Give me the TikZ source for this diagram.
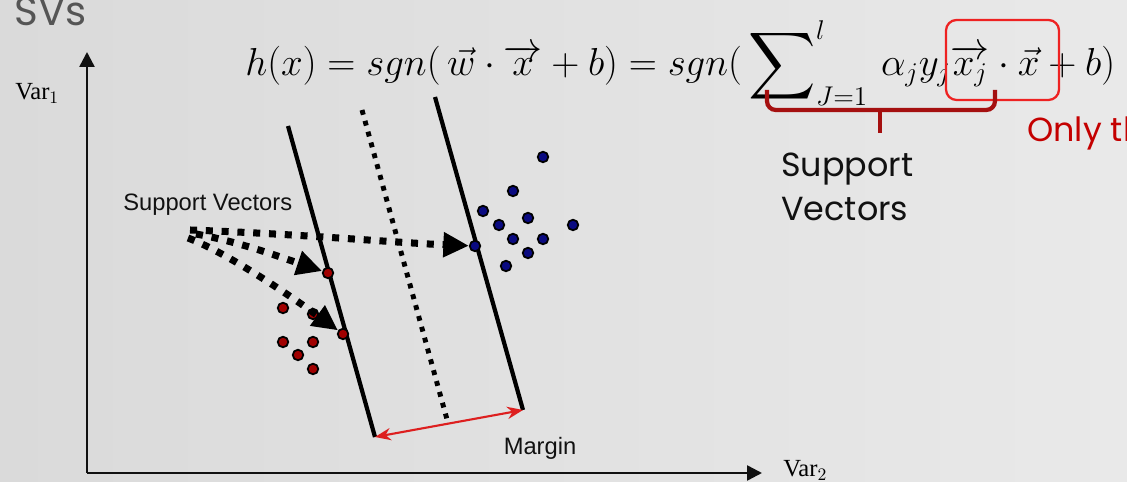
\documentclass[tikz,border=0pt]{standalone}
\usepackage{amsmath,amssymb}
\usepackage{fontspec}
\setmainfont{Liberation Serif}
\newfontfamily\arialfont{Liberation Sans}
\newfontfamily\gothfont{Poppins}
\usetikzlibrary{arrows.meta,positioning,calc}
\definecolor{bgl}{HTML}{DADADA}
\definecolor{bgr}{HTML}{E9E9E9}
\definecolor{ink}{HTML}{111111}
\definecolor{title}{HTML}{555555}
\definecolor{redpt}{HTML}{A00000}
\definecolor{bluept}{HTML}{0A0A80}
\definecolor{margin}{HTML}{DD1F1F}
\definecolor{boxred}{HTML}{EE2222}
\definecolor{brace}{HTML}{A51010}
\definecolor{note}{HTML}{C40000}
\newcommand{\bigsum}{\mathop{\vcenter{\hbox{\scalebox{1.2}{$\displaystyle\sum$}}}}}
\tikzset{
  axis/.style={-{Triangle[length=8.5pt,width=8.5pt]}, line width=1.4pt, draw=ink},
  hyper/.style={line width=2.4pt, draw=black},
  midplane/.style={line width=2.8pt, draw=black, dash pattern=on 2.8pt off 3.6pt},
  dotarr/.style={-{Triangle[length=14.5pt,width=13.5pt]}, line width=4pt, draw=black, dash pattern=on 4pt off 5pt},
  pt/.style={circle, inner sep=0pt, minimum size=6pt, draw=black, line width=1pt, fill=#1},
  reddot/.style={pt=redpt},
  bluedot/.style={pt=bluept},
  lab/.style={font=\arialfont\fontsize{13.5}{15}\selectfont, text=ink, inner sep=0pt},
}

\begin{document}
\begin{tikzpicture}[x=0.02cm, y=-0.02cm]
    \shade[left color=bgl, right color=bgr] (0,0) rectangle (1127,482);
    \useasboundingbox (0,0) rectangle (1127,482);
    % title
    \node[font=\gothfont\fontsize{23}{23}\selectfont, text=title, anchor=base west, inner sep=0pt] (ttl) at (14,26) {SVs};
    % axes
    \coordinate (origin) at (87,473);
    \coordinate (ytop) at (87,52);
    \coordinate (xend) at (762,473);
    \draw[axis] (origin) -- (ytop);
    \draw[axis] (origin) -- (xend);
    \node[font=\fontsize{14}{14}\selectfont, anchor=base west, inner sep=0pt] (v1) at (15,100) {Var$_1$};
    \node[font=\fontsize{14}{14}\selectfont, anchor=base west, inner sep=0pt] (v2) at (783,477) {Var$_2$};
    % hyperplanes
    \coordinate (ltop) at (288,126);
    \coordinate (lbot) at (375,437);
    \coordinate (mtop) at (362,110);
    \coordinate (mbot) at (448,423);
    \coordinate (rtop) at (435,97);
    \coordinate (rbot) at (523,410);
    \draw[hyper] (ltop) -- (lbot);
    \draw[midplane] (mtop) -- (mbot);
    \draw[hyper] (rtop) -- (rbot);
    % margin
    \draw[{Stealth[length=9pt,width=7pt]}-{Stealth[length=9pt,width=7pt]}, line width=1.2pt, draw=margin] (lbot) -- (rbot);
    \node[lab] (mlab) at (540,448) {Margin};
    % classes
    \foreach \n/\x/\y in {r1/283/308, r2/313/314, r3/283/342, r4/313/342, r5/298/355, r6/313/369, rsv1/328/273, rsv2/343/334}
      \node[reddot] (\n) at (\x,\y) {};
    \foreach \n/\x/\y in {b1/543/157, b2/513/191, b3/483/211, b4/499/225, b5/528/218, b6/573/225, b7/513/239, b8/543/239, b9/528/253, b10/506/266, bsv/475/246}
      \node[bluedot] (\n) at (\x,\y) {};
    % support vector pointers
    \node[lab, anchor=west] (svlab) at (123,205) {Support Vectors};
    \coordinate (s1) at (190,230);
    \coordinate (s2) at (196,234);
    \coordinate (s3) at (188,238);
    \draw[dotarr] (s1) .. controls (300,234) and (400,243) .. (bsv);
    \draw[dotarr] (s2) .. controls (240,242) and (280,257) .. (rsv1);
    \draw[dotarr] (s3) .. controls (225,252) and (285,292) .. (rsv2);
    % decision function
    \node[font=\fontsize{20.74}{22}\selectfont, anchor=base west, inner sep=0pt] (eq) at (245,76)
      {\scalebox{1.07}{$h(x) = sgn(\,\vec{w}\cdot\overrightarrow{x} + b) = sgn(\,\bigsum\nolimits_{J=1}^{l}\,\alpha_j y_j\overrightarrow{x_j}\cdot\vec{x} + b)$}};
    \draw[boxred, line width=1.3pt, rounded corners=6pt] (946,20) rectangle (1059,100);
    \coordinate (bl) at (767,90);
    \coordinate (br) at (995,90);
    \coordinate (btip) at (880,133);
    \draw[brace, line width=2.4pt, rounded corners=5pt] (bl) -- (767,110) -- (995,110) -- (br);
    \draw[brace, line width=2.8pt] (880,110) -- (btip);
    \node[font=\gothfont\fontsize{19}{25}\selectfont, text=ink, align=left, anchor=north west, inner sep=0pt] (svtxt) at (781,153) {Support\\Vectors};
    \node[font=\gothfont\fontsize{19}{19}\selectfont, text=note, anchor=base west, inner sep=0pt] (only) at (1027,142) {Only th};
\end{tikzpicture}
\end{document}
